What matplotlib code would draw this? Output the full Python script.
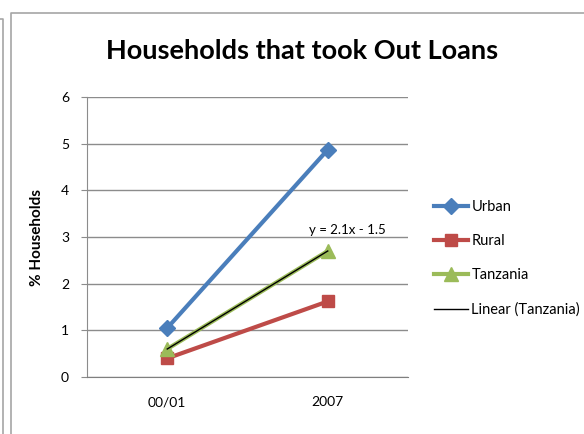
import matplotlib
matplotlib.use("Agg")
import matplotlib.pyplot as plt
import numpy as np
from matplotlib.lines import Line2D

plt.rcParams["font.family"] = ["Lato", "DejaVu Sans"]

# survey rounds and share of households that took out loans (%)
periods = ["00/01", "2007"]
urban = [1.05, 4.87]
rural = [0.4, 1.62]
tanzania = [0.6, 2.7]

y_ticks = [0, 1, 2, 3, 4, 5, 6]

BLUE = "#4A7EBB"
RED = "#BE4B48"
GREEN = "#9BBB59"
GRID = "#8C8C8C"

fig = plt.figure(figsize=(5.84, 4.34), dpi=100)
ax = fig.add_axes([87 / 584, 1 - 377 / 434, 321 / 584, 280 / 434])

x = np.arange(1, len(periods) + 1)
ax.plot(x, urban, color=BLUE, lw=3, marker="D", ms=8, label="Urban")
ax.plot(x, rural, color=RED, lw=3, marker="s", ms=9, label="Rural")
ax.plot(x, tanzania, color=GREEN, lw=3, marker="^", ms=10, label="Tanzania")

# linear trend through the Tanzania series
slope, intercept = np.polyfit(x, tanzania, 1)
ax.plot(x, slope * x + intercept, color="black", lw=1, label="Linear (Tanzania)")
sign = "-" if intercept < 0 else "+"
ax.text(x[-1] + 0.12, slope * x[-1] + intercept + 0.33,
        f"y = {slope:.1f}x {sign} {abs(intercept):.1f}",
        ha="center", va="bottom", fontsize=9.5)

ax.set_xlim(0.5, len(periods) + 0.5)
ax.set_ylim(0, 6)
ax.set_xticks(x)
ax.set_xticklabels(periods)
ax.set_yticks(y_ticks)
ax.tick_params(axis="x", length=0, pad=14, labelsize=10)
ax.tick_params(axis="y", length=4, color=GRID, pad=9, labelsize=10)
ax.yaxis.grid(True, color=GRID, lw=1)
ax.set_axisbelow(True)
for side in ("top", "right"):
    ax.spines[side].set_visible(False)
ax.spines["left"].set_color(GRID)
ax.spines["bottom"].set_color("#7F7F7F")

ax.set_ylabel("% Households", fontsize=11, fontweight="bold", labelpad=12)
fig.text(0.518, 1 - 51 / 434, "Households that took Out Loans",
         ha="center", va="center", fontsize=19.5, fontweight="bold")

fig.legend(loc="upper left", bbox_to_anchor=(421 / 584, 1 - 187 / 434),
           frameon=False, fontsize=10.5, labelspacing=1.38,
           handlelength=2.3, handletextpad=0.25)

# chart frame borders
w, h = 584, 434
fig.add_artist(Line2D([11 / w, 11 / w, 1], [0, 1 - 13 / h, 1 - 13 / h],
                      transform=fig.transFigure, color="#A6A6A6", lw=1.2))
fig.add_artist(Line2D([0, 3 / w, 3 / w], [1 - 19 / h, 1 - 19 / h, 0],
                      transform=fig.transFigure, color="#A6A6A6", lw=1.2))

fig.savefig("out.png", dpi=100)
